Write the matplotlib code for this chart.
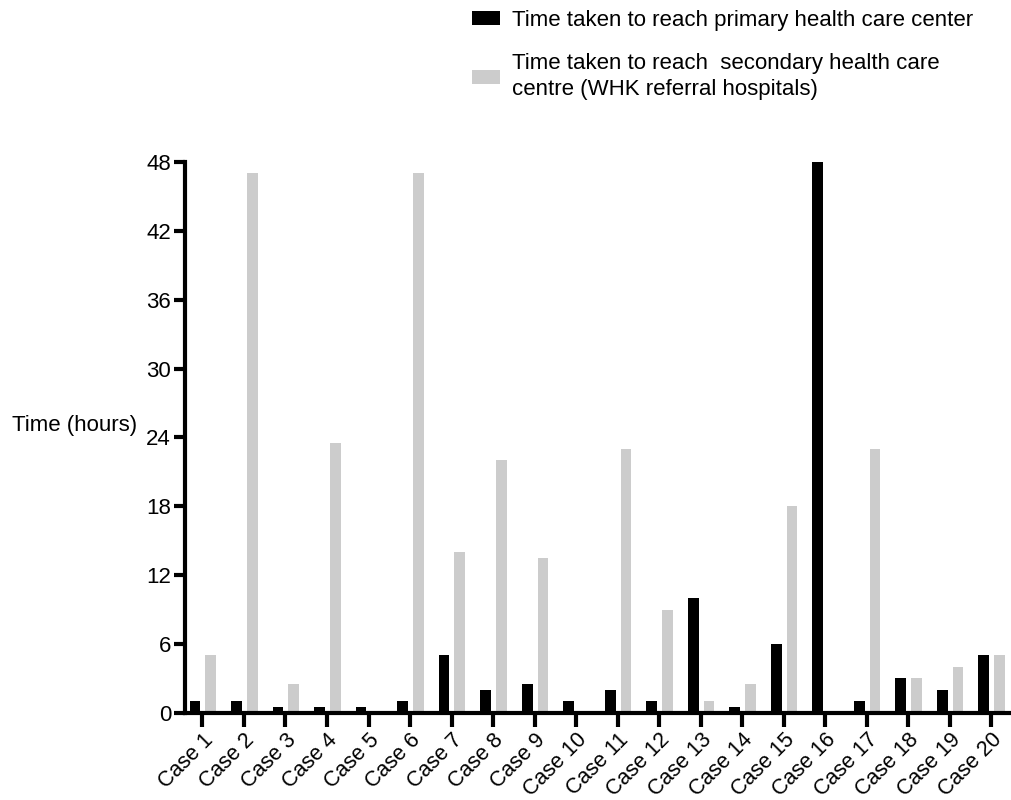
import matplotlib.pyplot as plt
import numpy as np

plt.rcParams['font.family'] = ['Liberation Sans', 'DejaVu Sans']

cases = ['Case %d' % i for i in range(1, 21)]
primary = [1, 1, 0.5, 0.5, 0.5, 1, 5, 2, 2.5, 1, 2, 1, 10, 0.5, 6, 48, 1, 3, 2, 5]
secondary = [5, 47, 2.5, 23.5, 0, 47, 14, 22, 13.5, 0, 23, 9, 1, 2.5, 18, 0, 23, 3, 4, 5]
yticks = [0, 6, 12, 18, 24, 30, 36, 42, 48]

fs = 16

fig = plt.figure(figsize=(10.11, 8), dpi=100)
ax = fig.add_axes([0.183, 0.109, 0.816, 0.6885])

x = np.arange(len(cases))
w = 0.26
ax.bar(x - 0.18, primary, w, color='black',
       label='Time taken to reach primary health care center')
ax.bar(x + 0.2, secondary, w, color='#cccccc',
       label='Time taken to reach  secondary health care\ncentre (WHK referral hospitals)')

ax.set_xlim(-0.42, 19.45)
ax.set_ylim(0, 48)
ax.set_yticks(yticks)
ax.set_xticks(x)
ax.set_xticklabels(cases, rotation=45, ha='right', rotation_mode='anchor')
ax.tick_params(axis='both', width=3, direction='out')
ax.tick_params(axis='y', length=8, pad=2, labelsize=fs)
ax.tick_params(axis='x', length=10, pad=2, labelsize=15.5)
for s in ['top', 'right']:
    ax.spines[s].set_visible(False)
for s in ['left', 'bottom']:
    ax.spines[s].set_linewidth(3)

fig.text(0.012, 0.468, 'Time (hours)', fontsize=fs, va='center', ha='left')

leg = fig.legend(loc='upper left', bbox_to_anchor=(472 / 1011, 1 - 10 / 800), frameon=False,
                 fontsize=fs, handlelength=1.27, handleheight=0.6, labelspacing=1.0,
                 handletextpad=0.55, borderpad=0, borderaxespad=0)
for t in leg.get_texts():
    t.set_linespacing(1.3)

fig.savefig('out.png', dpi=100)
